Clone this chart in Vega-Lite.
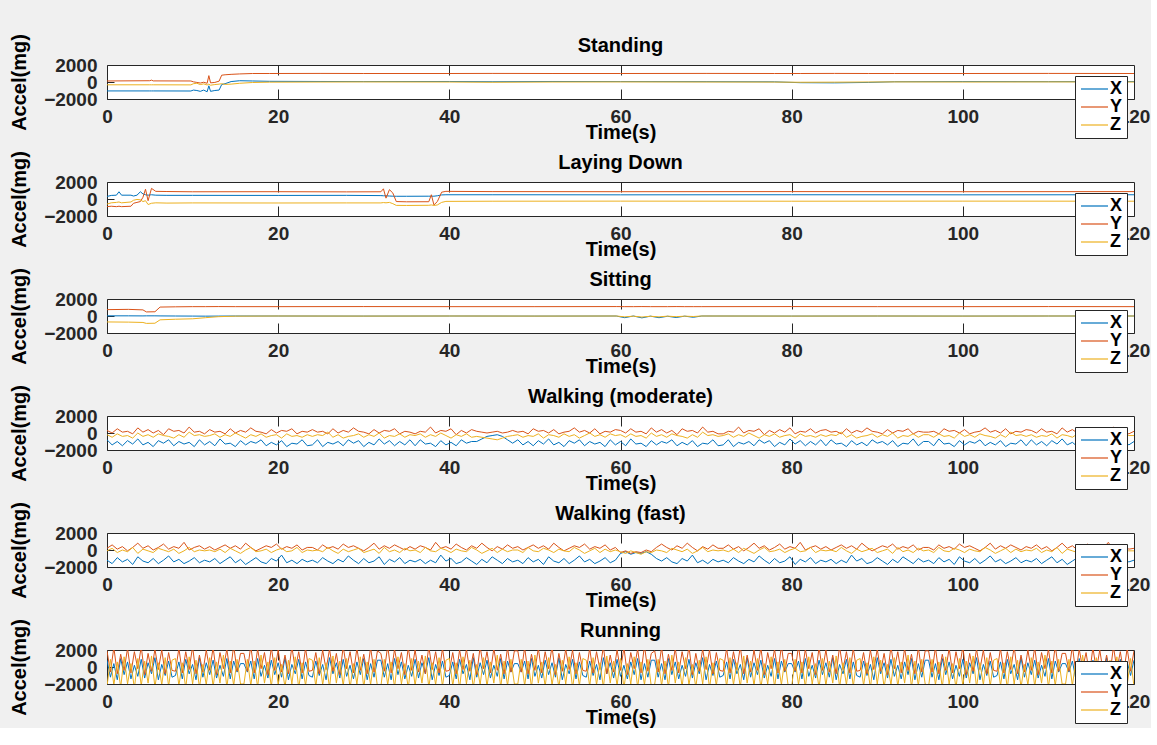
{
"$schema": "https://vega.github.io/schema/vega-lite/v6.json",
"background": "#f0f0f0",
"padding": {"left": 9, "top": 33, "right": 0, "bottom": 0},
"spacing": 83,
"bounds": "flush",
"config": {
"font": "Liberation Sans",
"view": {"fill": "white", "stroke": "#262626", "strokeWidth": 1},
"title": {"fontSize": 20, "fontWeight": "bold", "color": "black", "offset": -22, "anchor": "middle", "font": "Liberation Sans"},
"axis": {"labelFont": "Liberation Sans", "titleFont": "Liberation Sans", "labelFontSize": 19, "labelFontWeight": "bold", "labelColor": "#262626", "titleFontSize": 20, "titleFontWeight": "bold", "titleColor": "black", "grid": false, "domain": false, "tickColor": "#262626", "labelOverlap": false, "labelFlush": false, "labelBound": false},
"axisX": {"tickSize": -10, "labelPadding": 18, "titlePadding": -4},
"axisY": {"tickSize": -7, "labelPadding": 17, "titlePadding": 14, "format": "d"},
"legend": {"symbolType": "M-1,0H2.86", "symbolSize": 196, "symbolStrokeWidth": 1.2, "symbolOpacity": 1, "labelFont": "Liberation Sans", "labelFontSize": 18, "labelFontWeight": "bold", "labelColor": "black", "strokeColor": "#262626", "fillColor": "white", "padding": 4, "rowPadding": 0, "labelOffset": 13, "cornerRadius": 0}
},
"datasets": {
"st": [
{"t":0,"X":-1050,"Y":120,"Z":-330},{"t":5,"X":-1050,"Y":150,"Z":-330},{"t":5.2,"X":-1050,"Y":220,"Z":-330},{"t":5.4,"X":-1050,"Y":130,"Z":-330},{"t":9.8,"X":-1060,"Y":120,"Z":-340},{"t":10.1,"X":-950,"Y":20,"Z":-200},{"t":10.5,"X":-1000,"Y":-50,"Z":-150},{"t":10.9,"X":-1100,"Y":-120,"Z":-300},{"t":11.3,"X":-950,"Y":-30,"Z":-220},{"t":11.7,"X":-1150,"Y":-150,"Z":-350},{"t":11.9,"X":-450,"Y":750,"Z":-250},{"t":12.1,"X":-1100,"Y":-100,"Z":-380},{"t":12.6,"X":-1000,"Y":-50,"Z":-300},{"t":13.1,"X":-950,"Y":100,"Z":-250},{"t":13.4,"X":-300,"Y":800,"Z":-200},{"t":13.8,"X":-200,"Y":850,"Z":-280},{"t":14.5,"X":50,"Y":900,"Z":-250},{"t":15.5,"X":150,"Y":950,"Z":-150},{"t":17,"X":120,"Y":1000,"Z":-60},{"t":19,"X":80,"Y":1000,"Z":-20},{"t":25,"X":60,"Y":1010,"Z":0},{"t":30,"X":50,"Y":1000,"Z":10},{"t":40,"X":60,"Y":1000,"Z":0},{"t":45,"X":30,"Y":1010,"Z":-30},{"t":52,"X":60,"Y":1000,"Z":0},{"t":60,"X":50,"Y":1000,"Z":10},{"t":70,"X":40,"Y":1010,"Z":0},{"t":78,"X":20,"Y":1000,"Z":-10},{"t":81,"X":-80,"Y":1000,"Z":-30},{"t":85,"X":-100,"Y":1010,"Z":-20},{"t":89,"X":-50,"Y":1000,"Z":0},{"t":92,"X":30,"Y":1000,"Z":10},{"t":100,"X":50,"Y":1000,"Z":0},{"t":110,"X":40,"Y":1010,"Z":10},{"t":120,"X":50,"Y":1000,"Z":0}
],
"ld": [
{"t":0,"X":300,"Y":-900,"Z":-600},{"t":0.5,"X":420,"Y":-850,"Z":-450},{"t":1.1,"X":450,"Y":-900,"Z":-400},{"t":1.4,"X":850,"Y":-850,"Z":-350},{"t":1.7,"X":450,"Y":-900,"Z":-450},{"t":2.8,"X":450,"Y":-850,"Z":-350},{"t":3.1,"X":350,"Y":-500,"Z":-150},{"t":3.5,"X":450,"Y":-400,"Z":-50},{"t":3.9,"X":850,"Y":-300,"Z":-100},{"t":4.2,"X":600,"Y":200,"Z":-300},{"t":4.5,"X":500,"Y":1150,"Z":-200},{"t":4.8,"X":450,"Y":-200,"Z":-650},{"t":5.2,"X":500,"Y":1250,"Z":-500},{"t":5.7,"X":450,"Y":900,"Z":-450},{"t":7,"X":430,"Y":880,"Z":-480},{"t":10,"X":430,"Y":850,"Z":-460},{"t":20,"X":420,"Y":860,"Z":-470},{"t":28,"X":430,"Y":840,"Z":-460},{"t":32,"X":400,"Y":850,"Z":-460},{"t":32.3,"X":380,"Y":1200,"Z":-420},{"t":32.6,"X":380,"Y":100,"Z":-450},{"t":33,"X":350,"Y":1100,"Z":-400},{"t":33.4,"X":330,"Y":700,"Z":-550},{"t":33.8,"X":320,"Y":-300,"Z":-750},{"t":35,"X":320,"Y":-330,"Z":-760},{"t":37.6,"X":330,"Y":-320,"Z":-740},{"t":37.9,"X":330,"Y":500,"Z":-700},{"t":38.2,"X":330,"Y":-700,"Z":-760},{"t":38.6,"X":380,"Y":-300,"Z":-700},{"t":39.1,"X":480,"Y":800,"Z":-400},{"t":39.6,"X":500,"Y":900,"Z":-280},{"t":45,"X":500,"Y":870,"Z":-260},{"t":60,"X":490,"Y":860,"Z":-250},{"t":80,"X":500,"Y":870,"Z":-260},{"t":100,"X":490,"Y":860,"Z":-250},{"t":120,"X":500,"Y":870,"Z":-260}
],
"si": [
{"t":0,"X":20,"Y":750,"Z":-700},{"t":2.5,"X":20,"Y":780,"Z":-720},{"t":4.2,"X":10,"Y":720,"Z":-760},{"t":4.6,"X":20,"Y":480,"Z":-870},{"t":5.6,"X":20,"Y":500,"Z":-850},{"t":6.2,"X":10,"Y":1050,"Z":-450},{"t":8,"X":0,"Y":1080,"Z":-380},{"t":10,"X":-10,"Y":1100,"Z":-330},{"t":11.5,"X":-20,"Y":1100,"Z":-200},{"t":13,"X":-10,"Y":1110,"Z":-80},{"t":15,"X":0,"Y":1100,"Z":-20},{"t":20,"X":0,"Y":1100,"Z":0},{"t":30,"X":-10,"Y":1110,"Z":-10},{"t":40,"X":0,"Y":1100,"Z":0},{"t":50,"X":-10,"Y":1100,"Z":-10},{"t":59.5,"X":0,"Y":1110,"Z":0},{"t":60.5,"X":-200,"Y":1100,"Z":-100},{"t":61.5,"X":0,"Y":1100,"Z":-20},{"t":62.5,"X":-220,"Y":1110,"Z":-120},{"t":63.5,"X":-20,"Y":1100,"Z":-30},{"t":64.5,"X":-200,"Y":1100,"Z":-100},{"t":65.5,"X":-30,"Y":1100,"Z":-20},{"t":66.5,"X":-180,"Y":1110,"Z":-80},{"t":67.5,"X":-20,"Y":1100,"Z":-20},{"t":68.5,"X":-150,"Y":1100,"Z":-60},{"t":69.5,"X":0,"Y":1100,"Z":0},{"t":80,"X":-10,"Y":1110,"Z":-10},{"t":90,"X":0,"Y":1100,"Z":0},{"t":100,"X":-10,"Y":1100,"Z":-10},{"t":110,"X":0,"Y":1110,"Z":0},{"t":120,"X":0,"Y":1100,"Z":0}
],
"wm": [
{"t":0,"X":-800,"Y":300,"Z":-200},{"t":0.6,"X":-1400,"Y":0,"Z":-500},{"t":1.2,"X":-1000,"Y":500,"Z":-100},{"t":1.8,"X":-1500,"Y":100,"Z":-400},{"t":2.4,"X":-900,"Y":200,"Z":-300},{"t":3,"X":-1300,"Y":-100,"Z":-600},{"t":3.6,"X":-700,"Y":600,"Z":0},{"t":4.2,"X":-1400,"Y":100,"Z":-400},{"t":4.8,"X":-1100,"Y":400,"Z":-200},{"t":5.4,"X":-1600,"Y":0,"Z":-500},
{"t":6,"X":-900,"Y":300,"Z":-100},{"t":6.6,"X":-1200,"Y":-200,"Z":-300},{"t":7.2,"X":-800,"Y":500,"Z":-400},{"t":7.8,"X":-1500,"Y":200,"Z":-600},{"t":8.4,"X":-1000,"Y":300,"Z":-200},{"t":9,"X":-1300,"Y":0,"Z":-500},{"t":9.6,"X":-1100,"Y":700,"Z":100},{"t":10.2,"X":-1600,"Y":100,"Z":-300},{"t":10.8,"X":-800,"Y":200,"Z":-200},{"t":11.4,"X":-1400,"Y":-100,"Z":-400},
{"t":12,"X":-1000,"Y":400,"Z":-300},{"t":12.6,"X":-1500,"Y":100,"Z":-100},{"t":13.2,"X":-700,"Y":200,"Z":-500},{"t":13.8,"X":-1300,"Y":-100,"Z":-200},{"t":14.4,"X":-1200,"Y":500,"Z":-400},{"t":15,"X":-1600,"Y":0,"Z":0},{"t":15.6,"X":-900,"Y":300,"Z":-300},{"t":16.2,"X":-1400,"Y":100,"Z":-600},{"t":16.8,"X":-1000,"Y":600,"Z":-200},{"t":17.4,"X":-1200,"Y":200,"Z":-400},
{"t":18,"X":-800,"Y":100,"Z":-100},{"t":18.6,"X":-1500,"Y":-100,"Z":-500},{"t":19.2,"X":-1100,"Y":400,"Z":-300},{"t":19.8,"X":-1400,"Y":0,"Z":-200},{"t":20.4,"X":-900,"Y":300,"Z":-600},{"t":21,"X":-1600,"Y":200,"Z":-100},{"t":21.6,"X":-1200,"Y":500,"Z":-400},{"t":22.2,"X":-1300,"Y":-100,"Z":-300},{"t":22.8,"X":-800,"Y":200,"Z":-500},{"t":23.4,"X":-1500,"Y":100,"Z":-200},
{"t":24,"X":-1400,"Y":400,"Z":-400},{"t":24.6,"X":-800,"Y":100,"Z":-200},{"t":25.2,"X":-1600,"Y":200,"Z":-300},{"t":25.8,"X":-1100,"Y":-100,"Z":100},{"t":26.4,"X":-1300,"Y":500,"Z":-500},{"t":27,"X":-1000,"Y":0,"Z":-200},{"t":27.6,"X":-1500,"Y":300,"Z":-600},{"t":28.2,"X":-800,"Y":100,"Z":-400},{"t":28.8,"X":-1200,"Y":600,"Z":-300},{"t":29.4,"X":-900,"Y":200,"Z":-100},
{"t":30,"X":-1600,"Y":100,"Z":-500},{"t":30.6,"X":-1100,"Y":-100,"Z":-200},{"t":31.2,"X":-1400,"Y":400,"Z":-400},{"t":31.8,"X":-700,"Y":0,"Z":0},{"t":32.4,"X":-1300,"Y":300,"Z":-600},{"t":33,"X":-900,"Y":200,"Z":-300},{"t":33.6,"X":-1500,"Y":500,"Z":-400},{"t":34.2,"X":-1000,"Y":-100,"Z":-100},{"t":34.8,"X":-1400,"Y":200,"Z":-500},{"t":35.4,"X":-800,"Y":100,"Z":-200},
{"t":36,"X":-1500,"Y":-100,"Z":-300},{"t":36.6,"X":-800,"Y":200,"Z":-100},{"t":37.2,"X":-1300,"Y":100,"Z":-500},{"t":37.8,"X":-1200,"Y":700,"Z":-200},{"t":38.4,"X":-1600,"Y":0,"Z":-400},{"t":39,"X":-900,"Y":300,"Z":0},{"t":39.6,"X":-1400,"Y":200,"Z":-300},{"t":40.2,"X":-1100,"Y":500,"Z":-600},{"t":40.8,"X":-1500,"Y":-200,"Z":-200},{"t":41.4,"X":-800,"Y":300,"Z":-400},
{"t":42,"X":-1200,"Y":0,"Z":-100},{"t":42.6,"X":-1000,"Y":400,"Z":-500},{"t":43.2,"X":-1000,"Y":200,"Z":-400},{"t":43.8,"X":-700,"Y":100,"Z":-500},{"t":44.4,"X":-400,"Y":0,"Z":-600},{"t":45,"X":-300,"Y":100,"Z":-700},{"t":45.6,"X":-200,"Y":200,"Z":-800},{"t":46.2,"X":-400,"Y":0,"Z":-600},{"t":46.8,"X":-800,"Y":100,"Z":-400},{"t":47.4,"X":-1200,"Y":300,"Z":-300},
{"t":48,"X":-800,"Y":100,"Z":-200},{"t":48.6,"X":-1400,"Y":200,"Z":-500},{"t":49.2,"X":-1000,"Y":-100,"Z":-300},{"t":49.8,"X":-1500,"Y":500,"Z":-400},{"t":50.4,"X":-900,"Y":200,"Z":-100},{"t":51,"X":-1300,"Y":300,"Z":-600},{"t":51.6,"X":-700,"Y":0,"Z":-200},{"t":52.2,"X":-1400,"Y":400,"Z":-300},{"t":52.8,"X":-1100,"Y":-100,"Z":-500},{"t":53.4,"X":-1600,"Y":100,"Z":-100},
{"t":54,"X":-900,"Y":200,"Z":-400},{"t":54.6,"X":-1200,"Y":600,"Z":-200},{"t":55.2,"X":-800,"Y":100,"Z":-600},{"t":55.8,"X":-1500,"Y":300,"Z":-300},{"t":56.4,"X":-1000,"Y":0,"Z":0},{"t":57,"X":-1300,"Y":500,"Z":-400},{"t":57.6,"X":-1100,"Y":-100,"Z":-200},{"t":58.2,"X":-1600,"Y":200,"Z":-500},{"t":58.8,"X":-800,"Y":100,"Z":-100},{"t":59.4,"X":-1400,"Y":400,"Z":-300},
{"t":60,"X":-1000,"Y":300,"Z":-200},{"t":60.6,"X":-1500,"Y":0,"Z":-500},{"t":61.2,"X":-700,"Y":500,"Z":-100},{"t":61.8,"X":-1300,"Y":100,"Z":-400},{"t":62.4,"X":-1200,"Y":200,"Z":-300},{"t":63,"X":-1600,"Y":-100,"Z":-600},{"t":63.6,"X":-900,"Y":600,"Z":0},{"t":64.2,"X":-1400,"Y":100,"Z":-400},{"t":64.8,"X":-1000,"Y":400,"Z":-200},{"t":65.4,"X":-1200,"Y":0,"Z":-500},
{"t":66,"X":-800,"Y":300,"Z":-100},{"t":66.6,"X":-1500,"Y":-200,"Z":-300},{"t":67.2,"X":-1100,"Y":500,"Z":-400},{"t":67.8,"X":-1400,"Y":200,"Z":-600},{"t":68.4,"X":-900,"Y":300,"Z":-200},{"t":69,"X":-1600,"Y":0,"Z":-500},{"t":69.6,"X":-1200,"Y":700,"Z":100},{"t":70.2,"X":-1300,"Y":100,"Z":-300},{"t":70.8,"X":-800,"Y":200,"Z":-200},{"t":71.4,"X":-1500,"Y":-100,"Z":-400},
{"t":72,"X":-1400,"Y":-100,"Z":-300},{"t":72.6,"X":-800,"Y":200,"Z":-100},{"t":73.2,"X":-1600,"Y":100,"Z":-500},{"t":73.8,"X":-1100,"Y":700,"Z":-200},{"t":74.4,"X":-1300,"Y":0,"Z":-400},{"t":75,"X":-1000,"Y":300,"Z":0},{"t":75.6,"X":-1500,"Y":200,"Z":-300},{"t":76.2,"X":-800,"Y":500,"Z":-600},{"t":76.8,"X":-1200,"Y":-200,"Z":-200},{"t":77.4,"X":-900,"Y":300,"Z":-400},
{"t":78,"X":-1600,"Y":0,"Z":-100},{"t":78.6,"X":-1100,"Y":400,"Z":-500},{"t":79.2,"X":-1400,"Y":100,"Z":-300},{"t":79.8,"X":-700,"Y":600,"Z":-200},{"t":80.4,"X":-1300,"Y":-100,"Z":-600},{"t":81,"X":-900,"Y":200,"Z":-100},{"t":81.6,"X":-1500,"Y":100,"Z":-400},{"t":82.2,"X":-1000,"Y":500,"Z":-300},{"t":82.8,"X":-1400,"Y":0,"Z":-500},{"t":83.4,"X":-800,"Y":300,"Z":-200},
{"t":84,"X":-1500,"Y":400,"Z":-400},{"t":84.6,"X":-800,"Y":100,"Z":-200},{"t":85.2,"X":-1300,"Y":200,"Z":-300},{"t":85.8,"X":-1200,"Y":-100,"Z":100},{"t":86.4,"X":-1600,"Y":500,"Z":-500},{"t":87,"X":-900,"Y":0,"Z":-200},{"t":87.6,"X":-1400,"Y":300,"Z":-600},{"t":88.2,"X":-1100,"Y":100,"Z":-400},{"t":88.8,"X":-1500,"Y":600,"Z":-300},{"t":89.4,"X":-800,"Y":200,"Z":-100},
{"t":90,"X":-1200,"Y":100,"Z":-500},{"t":90.6,"X":-1000,"Y":-100,"Z":-200},{"t":91.2,"X":-1400,"Y":400,"Z":-400},{"t":91.8,"X":-900,"Y":0,"Z":0},{"t":92.4,"X":-1600,"Y":300,"Z":-600},{"t":93,"X":-1200,"Y":200,"Z":-300},{"t":93.6,"X":-1300,"Y":500,"Z":-400},{"t":94.2,"X":-700,"Y":-100,"Z":-100},{"t":94.8,"X":-1500,"Y":200,"Z":-500},{"t":95.4,"X":-1000,"Y":100,"Z":-200},
{"t":96,"X":-1000,"Y":100,"Z":-200},{"t":96.6,"X":-1500,"Y":200,"Z":-500},{"t":97.2,"X":-700,"Y":-100,"Z":-100},{"t":97.8,"X":-1300,"Y":500,"Z":-400},{"t":98.4,"X":-1200,"Y":200,"Z":-300},{"t":99,"X":-1600,"Y":300,"Z":-600},{"t":99.6,"X":-900,"Y":0,"Z":0},{"t":100.2,"X":-1400,"Y":400,"Z":-400},{"t":100.8,"X":-1000,"Y":-100,"Z":-200},{"t":101.4,"X":-1200,"Y":100,"Z":-500},
{"t":102,"X":-800,"Y":200,"Z":-100},{"t":102.6,"X":-1500,"Y":600,"Z":-300},{"t":103.2,"X":-1100,"Y":100,"Z":-400},{"t":103.8,"X":-1400,"Y":300,"Z":-600},{"t":104.4,"X":-900,"Y":0,"Z":-200},{"t":105,"X":-1600,"Y":500,"Z":-500},{"t":105.6,"X":-1200,"Y":-100,"Z":100},{"t":106.2,"X":-1300,"Y":200,"Z":-300},{"t":106.8,"X":-800,"Y":100,"Z":-200},{"t":107.4,"X":-1500,"Y":400,"Z":-400},
{"t":108,"X":-800,"Y":300,"Z":-200},{"t":108.6,"X":-1400,"Y":0,"Z":-500},{"t":109.2,"X":-1000,"Y":500,"Z":-300},{"t":109.8,"X":-1500,"Y":100,"Z":-400},{"t":110.4,"X":-900,"Y":200,"Z":-100},{"t":111,"X":-1300,"Y":-100,"Z":-600},{"t":111.6,"X":-700,"Y":600,"Z":-200},{"t":112.2,"X":-1400,"Y":100,"Z":-300},{"t":112.8,"X":-1100,"Y":400,"Z":-500},{"t":113.4,"X":-1600,"Y":0,"Z":-100},
{"t":114,"X":-900,"Y":300,"Z":-400},{"t":114.6,"X":-1200,"Y":-200,"Z":-200},{"t":115.2,"X":-800,"Y":500,"Z":-600},{"t":115.8,"X":-1500,"Y":200,"Z":-300},{"t":116.4,"X":-1000,"Y":300,"Z":0},{"t":117,"X":-1300,"Y":0,"Z":-400},{"t":117.6,"X":-1100,"Y":700,"Z":-200},{"t":118.2,"X":-1600,"Y":100,"Z":-500},{"t":118.8,"X":-800,"Y":200,"Z":-100},{"t":119.4,"X":-1400,"Y":-100,"Z":-300},
{"t":120,"X":-1000,"Y":200,"Z":-300}
],
"wf": [
{"t":0,"X":-1200,"Y":200,"Z":-100},{"t":0.6,"X":-1600,"Y":600,"Z":200},{"t":1.2,"X":-900,"Y":100,"Z":-300},{"t":1.8,"X":-1400,"Y":400,"Z":0},{"t":2.4,"X":-1100,"Y":-100,"Z":-200},{"t":3,"X":-1700,"Y":300,"Z":300},{"t":3.6,"X":-800,"Y":800,"Z":-400},{"t":4.2,"X":-1300,"Y":200,"Z":100},{"t":4.8,"X":-1500,"Y":500,"Z":-100},{"t":5.4,"X":-1000,"Y":0,"Z":-300},
{"t":6,"X":-1600,"Y":300,"Z":200},{"t":6.6,"X":-1200,"Y":700,"Z":0},{"t":7.2,"X":-700,"Y":100,"Z":-200},{"t":7.8,"X":-1400,"Y":400,"Z":100},{"t":8.4,"X":-1100,"Y":200,"Z":-400},{"t":9,"X":-1600,"Y":900,"Z":-100},{"t":9.6,"X":-1300,"Y":0,"Z":300},{"t":10.2,"X":-900,"Y":300,"Z":-200},{"t":10.8,"X":-1500,"Y":500,"Z":0},{"t":11.4,"X":-1200,"Y":100,"Z":-100},
{"t":12,"X":-1400,"Y":400,"Z":0},{"t":12.6,"X":-1000,"Y":0,"Z":-200},{"t":13.2,"X":-1600,"Y":300,"Z":100},{"t":13.8,"X":-1200,"Y":600,"Z":-300},{"t":14.4,"X":-800,"Y":200,"Z":200},{"t":15,"X":-1500,"Y":500,"Z":-100},{"t":15.6,"X":-1100,"Y":100,"Z":-400},{"t":16.2,"X":-1700,"Y":800,"Z":0},{"t":16.8,"X":-1300,"Y":300,"Z":300},{"t":17.4,"X":-900,"Y":-100,"Z":-200},
{"t":18,"X":-1400,"Y":200,"Z":-100},{"t":18.6,"X":-1600,"Y":500,"Z":100},{"t":19.2,"X":-1000,"Y":300,"Z":-300},{"t":19.8,"X":-1300,"Y":700,"Z":0},{"t":20.4,"X":-600,"Y":100,"Z":200},{"t":21,"X":-1500,"Y":400,"Z":-200},{"t":21.6,"X":-1200,"Y":200,"Z":-100},{"t":22.2,"X":-1600,"Y":600,"Z":300},{"t":22.8,"X":-1100,"Y":0,"Z":-300},{"t":23.4,"X":-1400,"Y":300,"Z":0},
{"t":24,"X":-1200,"Y":300,"Z":-100},{"t":24.6,"X":-1500,"Y":0,"Z":0},{"t":25.2,"X":-900,"Y":600,"Z":-200},{"t":25.8,"X":-1300,"Y":200,"Z":300},{"t":26.4,"X":-1600,"Y":400,"Z":-100},{"t":27,"X":-1100,"Y":100,"Z":-400},{"t":27.6,"X":-1400,"Y":700,"Z":100},{"t":28.2,"X":-700,"Y":300,"Z":-200},{"t":28.8,"X":-1200,"Y":500,"Z":0},{"t":29.4,"X":-1600,"Y":200,"Z":200},
{"t":30,"X":-1000,"Y":-100,"Z":-300},{"t":30.6,"X":-1500,"Y":300,"Z":-100},{"t":31.2,"X":-1300,"Y":800,"Z":100},{"t":31.8,"X":-800,"Y":100,"Z":-400},{"t":32.4,"X":-1700,"Y":500,"Z":300},{"t":33,"X":-1100,"Y":200,"Z":-200},{"t":33.6,"X":-1400,"Y":600,"Z":0},{"t":34.2,"X":-900,"Y":300,"Z":-300},{"t":34.8,"X":-1600,"Y":0,"Z":200},{"t":35.4,"X":-1200,"Y":400,"Z":-100},
{"t":36,"X":-1400,"Y":100,"Z":0},{"t":36.6,"X":-1100,"Y":500,"Z":-300},{"t":37.2,"X":-1600,"Y":300,"Z":300},{"t":37.8,"X":-1200,"Y":0,"Z":-100},{"t":38.4,"X":-1500,"Y":900,"Z":-200},{"t":39,"X":-600,"Y":200,"Z":200},{"t":39.6,"X":-1300,"Y":400,"Z":0},{"t":40.2,"X":-1000,"Y":100,"Z":-300},{"t":40.8,"X":-1600,"Y":700,"Z":100},{"t":41.4,"X":-1400,"Y":300,"Z":-100},
{"t":42,"X":-900,"Y":0,"Z":-200},{"t":42.6,"X":-1300,"Y":500,"Z":300},{"t":43.2,"X":-1700,"Y":200,"Z":0},{"t":43.8,"X":-1100,"Y":800,"Z":-400},{"t":44.4,"X":-1500,"Y":300,"Z":-100},{"t":45,"X":-800,"Y":-100,"Z":200},{"t":45.6,"X":-1200,"Y":400,"Z":-300},{"t":46.2,"X":-1600,"Y":100,"Z":100},{"t":46.8,"X":-1000,"Y":600,"Z":-200},{"t":47.4,"X":-1400,"Y":200,"Z":0},
{"t":48,"X":-1200,"Y":400,"Z":0},{"t":48.6,"X":-1600,"Y":0,"Z":-300},{"t":49.2,"X":-900,"Y":300,"Z":300},{"t":49.8,"X":-1400,"Y":600,"Z":-100},{"t":50.4,"X":-1100,"Y":200,"Z":-200},{"t":51,"X":-1700,"Y":500,"Z":200},{"t":51.6,"X":-800,"Y":100,"Z":0},{"t":52.2,"X":-1300,"Y":800,"Z":-300},{"t":52.8,"X":-1500,"Y":300,"Z":100},{"t":53.4,"X":-1000,"Y":-100,"Z":-100},
{"t":54,"X":-1600,"Y":200,"Z":-200},{"t":54.6,"X":-1200,"Y":500,"Z":300},{"t":55.2,"X":-700,"Y":300,"Z":0},{"t":55.8,"X":-1400,"Y":700,"Z":-400},{"t":56.4,"X":-1100,"Y":100,"Z":-100},{"t":57,"X":-1600,"Y":400,"Z":200},{"t":57.6,"X":-1300,"Y":200,"Z":-300},{"t":58.2,"X":-900,"Y":600,"Z":100},{"t":58.8,"X":-1500,"Y":0,"Z":-200},{"t":59.4,"X":-1200,"Y":300,"Z":0},
{"t":60,"X":-400,"Y":-300,"Z":-200},{"t":60.6,"X":-200,"Y":-100,"Z":-400},{"t":61.2,"X":-500,"Y":-400,"Z":-100},{"t":61.8,"X":-300,"Y":-200,"Z":-300},{"t":62.4,"X":-400,"Y":-300,"Z":-500},{"t":63,"X":-200,"Y":0,"Z":-200},{"t":63.6,"X":-500,"Y":-200,"Z":-300},{"t":64.2,"X":-1000,"Y":300,"Z":0},{"t":64.8,"X":-1300,"Y":700,"Z":-100},{"t":65.4,"X":-900,"Y":300,"Z":-300},
{"t":66,"X":-1400,"Y":0,"Z":200},{"t":66.6,"X":-1600,"Y":500,"Z":0},{"t":67.2,"X":-1000,"Y":200,"Z":-200},{"t":67.8,"X":-1300,"Y":800,"Z":100},{"t":68.4,"X":-600,"Y":300,"Z":-400},{"t":69,"X":-1500,"Y":-100,"Z":-100},{"t":69.6,"X":-1200,"Y":400,"Z":300},{"t":70.2,"X":-1600,"Y":100,"Z":-200},{"t":70.8,"X":-1100,"Y":600,"Z":0},{"t":71.4,"X":-1400,"Y":200,"Z":-100},
{"t":72,"X":-1200,"Y":200,"Z":0},{"t":72.6,"X":-1500,"Y":600,"Z":-200},{"t":73.2,"X":-900,"Y":100,"Z":100},{"t":73.8,"X":-1300,"Y":400,"Z":-300},{"t":74.4,"X":-1600,"Y":-100,"Z":200},{"t":75,"X":-1100,"Y":300,"Z":-100},{"t":75.6,"X":-1400,"Y":800,"Z":-400},{"t":76.2,"X":-700,"Y":200,"Z":0},{"t":76.8,"X":-1200,"Y":500,"Z":300},{"t":77.4,"X":-1600,"Y":0,"Z":-200},
{"t":78,"X":-1000,"Y":300,"Z":-100},{"t":78.6,"X":-1500,"Y":700,"Z":100},{"t":79.2,"X":-1300,"Y":100,"Z":-300},{"t":79.8,"X":-800,"Y":400,"Z":0},{"t":80.4,"X":-1700,"Y":200,"Z":200},{"t":81,"X":-1100,"Y":900,"Z":-200},{"t":81.6,"X":-1400,"Y":0,"Z":-100},{"t":82.2,"X":-900,"Y":300,"Z":300},{"t":82.8,"X":-1600,"Y":500,"Z":-300},{"t":83.4,"X":-1200,"Y":100,"Z":0},
{"t":84,"X":-1400,"Y":400,"Z":-100},{"t":84.6,"X":-1100,"Y":0,"Z":0},{"t":85.2,"X":-1600,"Y":300,"Z":-200},{"t":85.8,"X":-1200,"Y":600,"Z":300},{"t":86.4,"X":-1500,"Y":200,"Z":-100},{"t":87,"X":-600,"Y":500,"Z":-400},{"t":87.6,"X":-1300,"Y":100,"Z":100},{"t":88.2,"X":-1000,"Y":800,"Z":-200},{"t":88.8,"X":-1600,"Y":300,"Z":0},{"t":89.4,"X":-1400,"Y":-100,"Z":200},
{"t":90,"X":-900,"Y":200,"Z":-300},{"t":90.6,"X":-1300,"Y":500,"Z":-100},{"t":91.2,"X":-1700,"Y":300,"Z":100},{"t":91.8,"X":-1100,"Y":700,"Z":-400},{"t":92.4,"X":-1500,"Y":100,"Z":300},{"t":93,"X":-800,"Y":400,"Z":-200},{"t":93.6,"X":-1200,"Y":200,"Z":0},{"t":94.2,"X":-1600,"Y":600,"Z":-300},{"t":94.8,"X":-1000,"Y":0,"Z":200},{"t":95.4,"X":-1400,"Y":300,"Z":-100},
{"t":96,"X":-1200,"Y":300,"Z":0},{"t":96.6,"X":-1600,"Y":0,"Z":-300},{"t":97.2,"X":-900,"Y":600,"Z":300},{"t":97.8,"X":-1400,"Y":200,"Z":-100},{"t":98.4,"X":-1100,"Y":400,"Z":-200},{"t":99,"X":-1700,"Y":100,"Z":200},{"t":99.6,"X":-800,"Y":700,"Z":0},{"t":100.2,"X":-1300,"Y":300,"Z":-300},{"t":100.8,"X":-1500,"Y":500,"Z":100},{"t":101.4,"X":-1000,"Y":200,"Z":-100},
{"t":102,"X":-1600,"Y":-100,"Z":-200},{"t":102.6,"X":-1200,"Y":300,"Z":300},{"t":103.2,"X":-700,"Y":800,"Z":0},{"t":103.8,"X":-1400,"Y":100,"Z":-400},{"t":104.4,"X":-1100,"Y":500,"Z":-100},{"t":105,"X":-1600,"Y":200,"Z":200},{"t":105.6,"X":-1300,"Y":600,"Z":-300},{"t":106.2,"X":-900,"Y":300,"Z":100},{"t":106.8,"X":-1500,"Y":0,"Z":-200},{"t":107.4,"X":-1200,"Y":400,"Z":0},
{"t":108,"X":-1400,"Y":200,"Z":-100},{"t":108.6,"X":-1000,"Y":600,"Z":200},{"t":109.2,"X":-1600,"Y":100,"Z":-300},{"t":109.8,"X":-1200,"Y":400,"Z":0},{"t":110.4,"X":-800,"Y":-100,"Z":-200},{"t":111,"X":-1500,"Y":300,"Z":300},{"t":111.6,"X":-1100,"Y":800,"Z":-400},{"t":112.2,"X":-1700,"Y":200,"Z":100},{"t":112.8,"X":-1300,"Y":500,"Z":-100},{"t":113.4,"X":-900,"Y":0,"Z":-300},
{"t":114,"X":-1400,"Y":300,"Z":200},{"t":114.6,"X":-1600,"Y":700,"Z":0},{"t":115.2,"X":-1000,"Y":100,"Z":-200},{"t":115.8,"X":-1300,"Y":400,"Z":100},{"t":116.4,"X":-600,"Y":200,"Z":-400},{"t":117,"X":-1500,"Y":900,"Z":-100},{"t":117.6,"X":-1200,"Y":0,"Z":300},{"t":118.2,"X":-1600,"Y":300,"Z":-200},{"t":118.8,"X":-1100,"Y":500,"Z":0},{"t":119.4,"X":-1400,"Y":100,"Z":-100},
{"t":120,"X":-1200,"Y":200,"Z":-100}
],
"ru": [
{"t":0,"X":800,"Y":1900,"Z":-2300},{"t":0.4,"X":-1200,"Y":-600,"Z":900},{"t":0.8,"X":400,"Y":2300,"Z":-2100},{"t":1.2,"X":-1500,"Y":-800,"Z":600},{"t":1.6,"X":1000,"Y":1500,"Z":-2400},{"t":2,"X":-900,"Y":-400,"Z":1200},{"t":2.4,"X":600,"Y":2200,"Z":-2000},{"t":2.8,"X":-1400,"Y":-700,"Z":400},{"t":3.2,"X":200,"Y":1800,"Z":-2500},{"t":3.6,"X":-1100,"Y":-200,"Z":1000},
{"t":4,"X":900,"Y":2400,"Z":-2200},{"t":4.4,"X":-1300,"Y":-900,"Z":700},{"t":4.8,"X":500,"Y":1600,"Z":-1900},{"t":5.2,"X":-800,"Y":-500,"Z":1300},{"t":5.6,"X":1100,"Y":2100,"Z":-2400},{"t":6,"X":-1500,"Y":-300,"Z":500},{"t":6.4,"X":300,"Y":2000,"Z":-2100},{"t":6.8,"X":-1000,"Y":-800,"Z":1100},{"t":7.2,"X":700,"Y":1700,"Z":-2300},{"t":7.6,"X":-1200,"Y":-400,"Z":800},
{"t":8,"X":-1000,"Y":-500,"Z":1000},{"t":8.4,"X":600,"Y":2200,"Z":-2200},{"t":8.8,"X":-1400,"Y":-700,"Z":500},{"t":9.2,"X":900,"Y":1800,"Z":-2500},{"t":9.6,"X":-800,"Y":-300,"Z":1200},{"t":10,"X":300,"Y":2400,"Z":-2000},{"t":10.4,"X":-1500,"Y":-800,"Z":800},{"t":10.8,"X":1100,"Y":1400,"Z":-2400},{"t":11.2,"X":-1200,"Y":-600,"Z":300},{"t":11.6,"X":500,"Y":2000,"Z":-2100},
{"t":12,"X":-900,"Y":-400,"Z":1100},{"t":12.4,"X":800,"Y":2300,"Z":-2300},{"t":12.8,"X":-1300,"Y":-900,"Z":600},{"t":13.2,"X":200,"Y":1700,"Z":-1900},{"t":13.6,"X":-1100,"Y":-200,"Z":1400},{"t":14,"X":1000,"Y":2100,"Z":-2400},{"t":14.4,"X":-1400,"Y":-700,"Z":700},{"t":14.8,"X":700,"Y":2500,"Z":-2200},{"t":15.2,"X":-600,"Y":-500,"Z":900},{"t":15.6,"X":400,"Y":1600,"Z":-2000},
{"t":16,"X":400,"Y":1600,"Z":-2000},{"t":16.4,"X":-600,"Y":-500,"Z":900},{"t":16.8,"X":700,"Y":2500,"Z":-2200},{"t":17.2,"X":-1400,"Y":-700,"Z":700},{"t":17.6,"X":1000,"Y":2100,"Z":-2400},{"t":18,"X":-1100,"Y":-200,"Z":1400},{"t":18.4,"X":200,"Y":1700,"Z":-1900},{"t":18.8,"X":-1300,"Y":-900,"Z":600},{"t":19.2,"X":800,"Y":2300,"Z":-2300},{"t":19.6,"X":-900,"Y":-400,"Z":1100},
{"t":20,"X":500,"Y":2000,"Z":-2100},{"t":20.4,"X":-1200,"Y":-600,"Z":300},{"t":20.8,"X":1100,"Y":1400,"Z":-2400},{"t":21.2,"X":-1500,"Y":-800,"Z":800},{"t":21.6,"X":300,"Y":2400,"Z":-2000},{"t":22,"X":-800,"Y":-300,"Z":1200},{"t":22.4,"X":900,"Y":1800,"Z":-2500},{"t":22.8,"X":-1400,"Y":-700,"Z":500},{"t":23.2,"X":600,"Y":2200,"Z":-2200},{"t":23.6,"X":-1000,"Y":-500,"Z":1000},
{"t":24,"X":-1200,"Y":-400,"Z":800},{"t":24.4,"X":700,"Y":1700,"Z":-2300},{"t":24.8,"X":-1000,"Y":-800,"Z":1100},{"t":25.2,"X":300,"Y":2000,"Z":-2100},{"t":25.6,"X":-1500,"Y":-300,"Z":500},{"t":26,"X":1100,"Y":2100,"Z":-2400},{"t":26.4,"X":-800,"Y":-500,"Z":1300},{"t":26.8,"X":500,"Y":1600,"Z":-1900},{"t":27.2,"X":-1300,"Y":-900,"Z":700},{"t":27.6,"X":900,"Y":2400,"Z":-2200},
{"t":28,"X":-1100,"Y":-200,"Z":1000},{"t":28.4,"X":200,"Y":1800,"Z":-2500},{"t":28.8,"X":-1400,"Y":-700,"Z":400},{"t":29.2,"X":600,"Y":2200,"Z":-2000},{"t":29.6,"X":-900,"Y":-400,"Z":1200},{"t":30,"X":1000,"Y":1500,"Z":-2400},{"t":30.4,"X":-1500,"Y":-800,"Z":600},{"t":30.8,"X":400,"Y":2300,"Z":-2100},{"t":31.2,"X":-1200,"Y":-600,"Z":900},{"t":31.6,"X":800,"Y":1900,"Z":-2300},
{"t":32,"X":800,"Y":1600,"Z":-2300},{"t":32.4,"X":-1200,"Y":-500,"Z":900},{"t":32.8,"X":400,"Y":2500,"Z":-2100},{"t":33.2,"X":-1500,"Y":-700,"Z":600},{"t":33.6,"X":1000,"Y":2100,"Z":-2400},{"t":34,"X":-900,"Y":-200,"Z":1200},{"t":34.4,"X":600,"Y":1700,"Z":-2000},{"t":34.8,"X":-1400,"Y":-900,"Z":400},{"t":35.2,"X":200,"Y":2300,"Z":-2500},{"t":35.6,"X":-1100,"Y":-400,"Z":1000},
{"t":36,"X":900,"Y":2000,"Z":-2200},{"t":36.4,"X":-1300,"Y":-600,"Z":700},{"t":36.8,"X":500,"Y":1400,"Z":-1900},{"t":37.2,"X":-800,"Y":-800,"Z":1300},{"t":37.6,"X":1100,"Y":2400,"Z":-2400},{"t":38,"X":-1500,"Y":-300,"Z":500},{"t":38.4,"X":300,"Y":1800,"Z":-2100},{"t":38.8,"X":-1000,"Y":-700,"Z":1100},{"t":39.2,"X":700,"Y":2200,"Z":-2300},{"t":39.6,"X":-1200,"Y":-500,"Z":800},
{"t":40,"X":-1000,"Y":-400,"Z":1000},{"t":40.4,"X":600,"Y":1700,"Z":-2200},{"t":40.8,"X":-1400,"Y":-800,"Z":500},{"t":41.2,"X":900,"Y":2000,"Z":-2500},{"t":41.6,"X":-800,"Y":-300,"Z":1200},{"t":42,"X":300,"Y":2100,"Z":-2000},{"t":42.4,"X":-1500,"Y":-500,"Z":800},{"t":42.8,"X":1100,"Y":1600,"Z":-2400},{"t":43.2,"X":-1200,"Y":-900,"Z":300},{"t":43.6,"X":500,"Y":2400,"Z":-2100},
{"t":44,"X":-900,"Y":-200,"Z":1100},{"t":44.4,"X":800,"Y":1800,"Z":-2300},{"t":44.8,"X":-1300,"Y":-700,"Z":600},{"t":45.2,"X":200,"Y":2200,"Z":-1900},{"t":45.6,"X":-1100,"Y":-400,"Z":1400},{"t":46,"X":1000,"Y":1500,"Z":-2400},{"t":46.4,"X":-1400,"Y":-800,"Z":700},{"t":46.8,"X":700,"Y":2300,"Z":-2200},{"t":47.2,"X":-600,"Y":-600,"Z":900},{"t":47.6,"X":400,"Y":1900,"Z":-2000},
{"t":48,"X":400,"Y":1900,"Z":-2000},{"t":48.4,"X":-600,"Y":-600,"Z":900},{"t":48.8,"X":700,"Y":2300,"Z":-2200},{"t":49.2,"X":-1400,"Y":-800,"Z":700},{"t":49.6,"X":1000,"Y":1500,"Z":-2400},{"t":50,"X":-1100,"Y":-400,"Z":1400},{"t":50.4,"X":200,"Y":2200,"Z":-1900},{"t":50.8,"X":-1300,"Y":-700,"Z":600},{"t":51.2,"X":800,"Y":1800,"Z":-2300},{"t":51.6,"X":-900,"Y":-200,"Z":1100},
{"t":52,"X":500,"Y":2400,"Z":-2100},{"t":52.4,"X":-1200,"Y":-900,"Z":300},{"t":52.8,"X":1100,"Y":1600,"Z":-2400},{"t":53.2,"X":-1500,"Y":-500,"Z":800},{"t":53.6,"X":300,"Y":2100,"Z":-2000},{"t":54,"X":-800,"Y":-300,"Z":1200},{"t":54.4,"X":900,"Y":2000,"Z":-2500},{"t":54.8,"X":-1400,"Y":-800,"Z":500},{"t":55.2,"X":600,"Y":1700,"Z":-2200},{"t":55.6,"X":-1000,"Y":-400,"Z":1000},
{"t":56,"X":-1200,"Y":-500,"Z":800},{"t":56.4,"X":700,"Y":2200,"Z":-2300},{"t":56.8,"X":-1000,"Y":-700,"Z":1100},{"t":57.2,"X":300,"Y":1800,"Z":-2100},{"t":57.6,"X":-1500,"Y":-300,"Z":500},{"t":58,"X":1100,"Y":2400,"Z":-2400},{"t":58.4,"X":-800,"Y":-800,"Z":1300},{"t":58.8,"X":500,"Y":1400,"Z":-1900},{"t":59.2,"X":-1300,"Y":-600,"Z":700},{"t":59.6,"X":900,"Y":2000,"Z":-2200},
{"t":60,"X":-1100,"Y":-400,"Z":1000},{"t":60.4,"X":200,"Y":2300,"Z":-2500},{"t":60.8,"X":-1400,"Y":-900,"Z":400},{"t":61.2,"X":600,"Y":1700,"Z":-2000},{"t":61.6,"X":-900,"Y":-200,"Z":1200},{"t":62,"X":1000,"Y":2100,"Z":-2400},{"t":62.4,"X":-1500,"Y":-700,"Z":600},{"t":62.8,"X":400,"Y":2500,"Z":-2100},{"t":63.2,"X":-1200,"Y":-500,"Z":900},{"t":63.6,"X":800,"Y":1600,"Z":-2300},
{"t":64,"X":800,"Y":1900,"Z":-2000},{"t":64.4,"X":-1200,"Y":-600,"Z":900},{"t":64.8,"X":400,"Y":2300,"Z":-2200},{"t":65.2,"X":-1500,"Y":-800,"Z":700},{"t":65.6,"X":1000,"Y":1500,"Z":-2400},{"t":66,"X":-900,"Y":-400,"Z":1400},{"t":66.4,"X":600,"Y":2200,"Z":-1900},{"t":66.8,"X":-1400,"Y":-700,"Z":600},{"t":67.2,"X":200,"Y":1800,"Z":-2300},{"t":67.6,"X":-1100,"Y":-200,"Z":1100},
{"t":68,"X":900,"Y":2400,"Z":-2100},{"t":68.4,"X":-1300,"Y":-900,"Z":300},{"t":68.8,"X":500,"Y":1600,"Z":-2400},{"t":69.2,"X":-800,"Y":-500,"Z":800},{"t":69.6,"X":1100,"Y":2100,"Z":-2000},{"t":70,"X":-1500,"Y":-300,"Z":1200},{"t":70.4,"X":300,"Y":2000,"Z":-2500},{"t":70.8,"X":-1000,"Y":-800,"Z":500},{"t":71.2,"X":700,"Y":1700,"Z":-2200},{"t":71.6,"X":-1200,"Y":-400,"Z":1000},
{"t":72,"X":-1000,"Y":-500,"Z":800},{"t":72.4,"X":600,"Y":2200,"Z":-2300},{"t":72.8,"X":-1400,"Y":-700,"Z":1100},{"t":73.2,"X":900,"Y":1800,"Z":-2100},{"t":73.6,"X":-800,"Y":-300,"Z":500},{"t":74,"X":300,"Y":2400,"Z":-2400},{"t":74.4,"X":-1500,"Y":-800,"Z":1300},{"t":74.8,"X":1100,"Y":1400,"Z":-1900},{"t":75.2,"X":-1200,"Y":-600,"Z":700},{"t":75.6,"X":500,"Y":2000,"Z":-2200},
{"t":76,"X":-900,"Y":-400,"Z":1000},{"t":76.4,"X":800,"Y":2300,"Z":-2500},{"t":76.8,"X":-1300,"Y":-900,"Z":400},{"t":77.2,"X":200,"Y":1700,"Z":-2000},{"t":77.6,"X":-1100,"Y":-200,"Z":1200},{"t":78,"X":1000,"Y":2100,"Z":-2400},{"t":78.4,"X":-1400,"Y":-700,"Z":600},{"t":78.8,"X":700,"Y":2500,"Z":-2100},{"t":79.2,"X":-600,"Y":-500,"Z":900},{"t":79.6,"X":400,"Y":1600,"Z":-2300},
{"t":80,"X":400,"Y":1600,"Z":-2300},{"t":80.4,"X":-600,"Y":-500,"Z":900},{"t":80.8,"X":700,"Y":2500,"Z":-2100},{"t":81.2,"X":-1400,"Y":-700,"Z":600},{"t":81.6,"X":1000,"Y":2100,"Z":-2400},{"t":82,"X":-1100,"Y":-200,"Z":1200},{"t":82.4,"X":200,"Y":1700,"Z":-2000},{"t":82.8,"X":-1300,"Y":-900,"Z":400},{"t":83.2,"X":800,"Y":2300,"Z":-2500},{"t":83.6,"X":-900,"Y":-400,"Z":1000},
{"t":84,"X":500,"Y":2000,"Z":-2200},{"t":84.4,"X":-1200,"Y":-600,"Z":700},{"t":84.8,"X":1100,"Y":1400,"Z":-1900},{"t":85.2,"X":-1500,"Y":-800,"Z":1300},{"t":85.6,"X":300,"Y":2400,"Z":-2400},{"t":86,"X":-800,"Y":-300,"Z":500},{"t":86.4,"X":900,"Y":1800,"Z":-2100},{"t":86.8,"X":-1400,"Y":-700,"Z":1100},{"t":87.2,"X":600,"Y":2200,"Z":-2300},{"t":87.6,"X":-1000,"Y":-500,"Z":800},
{"t":88,"X":-1200,"Y":-400,"Z":1000},{"t":88.4,"X":700,"Y":1700,"Z":-2200},{"t":88.8,"X":-1000,"Y":-800,"Z":500},{"t":89.2,"X":300,"Y":2000,"Z":-2500},{"t":89.6,"X":-1500,"Y":-300,"Z":1200},{"t":90,"X":1100,"Y":2100,"Z":-2000},{"t":90.4,"X":-800,"Y":-500,"Z":800},{"t":90.8,"X":500,"Y":1600,"Z":-2400},{"t":91.2,"X":-1300,"Y":-900,"Z":300},{"t":91.6,"X":900,"Y":2400,"Z":-2100},
{"t":92,"X":-1100,"Y":-200,"Z":1100},{"t":92.4,"X":200,"Y":1800,"Z":-2300},{"t":92.8,"X":-1400,"Y":-700,"Z":600},{"t":93.2,"X":600,"Y":2200,"Z":-1900},{"t":93.6,"X":-900,"Y":-400,"Z":1400},{"t":94,"X":1000,"Y":1500,"Z":-2400},{"t":94.4,"X":-1500,"Y":-800,"Z":700},{"t":94.8,"X":400,"Y":2300,"Z":-2200},{"t":95.2,"X":-1200,"Y":-600,"Z":900},{"t":95.6,"X":800,"Y":1900,"Z":-2000},
{"t":96,"X":800,"Y":1900,"Z":-2300},{"t":96.4,"X":-1200,"Y":-600,"Z":900},{"t":96.8,"X":400,"Y":2300,"Z":-2100},{"t":97.2,"X":-1500,"Y":-800,"Z":600},{"t":97.6,"X":1000,"Y":1500,"Z":-2400},{"t":98,"X":-900,"Y":-400,"Z":1200},{"t":98.4,"X":600,"Y":2200,"Z":-2000},{"t":98.8,"X":-1400,"Y":-700,"Z":400},{"t":99.2,"X":200,"Y":1800,"Z":-2500},{"t":99.6,"X":-1100,"Y":-200,"Z":1000},
{"t":100,"X":900,"Y":2400,"Z":-2200},{"t":100.4,"X":-1300,"Y":-900,"Z":700},{"t":100.8,"X":500,"Y":1600,"Z":-1900},{"t":101.2,"X":-800,"Y":-500,"Z":1300},{"t":101.6,"X":1100,"Y":2100,"Z":-2400},{"t":102,"X":-1500,"Y":-300,"Z":500},{"t":102.4,"X":300,"Y":2000,"Z":-2100},{"t":102.8,"X":-1000,"Y":-800,"Z":1100},{"t":103.2,"X":700,"Y":1700,"Z":-2300},{"t":103.6,"X":-1200,"Y":-400,"Z":800},
{"t":104,"X":-1000,"Y":-500,"Z":1000},{"t":104.4,"X":600,"Y":2200,"Z":-2200},{"t":104.8,"X":-1400,"Y":-700,"Z":500},{"t":105.2,"X":900,"Y":1800,"Z":-2500},{"t":105.6,"X":-800,"Y":-300,"Z":1200},{"t":106,"X":300,"Y":2400,"Z":-2000},{"t":106.4,"X":-1500,"Y":-800,"Z":800},{"t":106.8,"X":1100,"Y":1400,"Z":-2400},{"t":107.2,"X":-1200,"Y":-600,"Z":300},{"t":107.6,"X":500,"Y":2000,"Z":-2100},
{"t":108,"X":-900,"Y":-400,"Z":1100},{"t":108.4,"X":800,"Y":2300,"Z":-2300},{"t":108.8,"X":-1300,"Y":-900,"Z":600},{"t":109.2,"X":200,"Y":1700,"Z":-1900},{"t":109.6,"X":-1100,"Y":-200,"Z":1400},{"t":110,"X":1000,"Y":2100,"Z":-2400},{"t":110.4,"X":-1400,"Y":-700,"Z":700},{"t":110.8,"X":700,"Y":2500,"Z":-2200},{"t":111.2,"X":-600,"Y":-500,"Z":900},{"t":111.6,"X":400,"Y":1600,"Z":-2000},
{"t":112,"X":400,"Y":1600,"Z":-2000},{"t":112.4,"X":-600,"Y":-500,"Z":900},{"t":112.8,"X":700,"Y":2500,"Z":-2200},{"t":113.2,"X":-1400,"Y":-700,"Z":700},{"t":113.6,"X":1000,"Y":2100,"Z":-2400},{"t":114,"X":-1100,"Y":-200,"Z":1400},{"t":114.4,"X":200,"Y":1700,"Z":-1900},{"t":114.8,"X":-1300,"Y":-900,"Z":600},{"t":115.2,"X":800,"Y":2300,"Z":-2300},{"t":115.6,"X":-900,"Y":-400,"Z":1100},
{"t":116,"X":500,"Y":2000,"Z":-2100},{"t":116.4,"X":-1200,"Y":-600,"Z":300},{"t":116.8,"X":1100,"Y":1400,"Z":-2400},{"t":117.2,"X":-1500,"Y":-800,"Z":800},{"t":117.6,"X":300,"Y":2400,"Z":-2000},{"t":118,"X":-800,"Y":-300,"Z":1200},{"t":118.4,"X":900,"Y":1800,"Z":-2500},{"t":118.8,"X":-1400,"Y":-700,"Z":500},{"t":119.2,"X":600,"Y":2200,"Z":-2200},{"t":119.6,"X":-1000,"Y":-500,"Z":1000},
{"t":120,"X":800,"Y":1900,"Z":-2300}
]
},
"vconcat": [
{"title": "Standing", "width": 1027, "height": 34, "layer": [
 {"data": {"name": "st"}, "transform": [{"fold": ["X","Y","Z"], "as": ["s","v"]}], "mark": {"type": "line", "strokeWidth": 1, "clip": true},
  "encoding": {"x": {"field": "t", "type": "quantitative", "scale": {"domain": [0,120], "nice": false}, "axis": {"values": [0,20,40,60,80,100,120], "title": "Time(s)"}},
   "y": {"field": "v", "type": "quantitative", "scale": {"domain": [-2000,2000], "nice": false}, "axis": {"values": [-2000,0,2000], "title": "Accel(mg)"}},
   "color": {"field": "s", "type": "nominal", "scale": {"domain": ["X","Y","Z"], "range": ["#0072bd","#d95319","#edb120"]}, "legend": {"title": null, "orient": "none", "legendX": 968, "legendY": 11}}}},
 {"data": {"values": [{"t": 0}, {"t": 120}]}, "mark": {"type": "point", "opacity": 0},
  "encoding": {"x": {"field": "t", "type": "quantitative", "axis": {"orient": "top", "values": [20,40,60,80,100], "labels": false, "title": null, "tickSize": -10, "labelPadding": 0, "minExtent": 0, "maxExtent": 0}}}}
 ], "resolve": {"axis": {"x": "independent"}}},
{"title": "Laying Down", "width": 1027, "height": 34, "layer": [
 {"data": {"name": "ld"}, "transform": [{"fold": ["X","Y","Z"], "as": ["s","v"]}], "mark": {"type": "line", "strokeWidth": 1, "clip": true},
  "encoding": {"x": {"field": "t", "type": "quantitative", "scale": {"domain": [0,120], "nice": false}, "axis": {"values": [0,20,40,60,80,100,120], "title": "Time(s)"}},
   "y": {"field": "v", "type": "quantitative", "scale": {"domain": [-2000,2000], "nice": false}, "axis": {"values": [-2000,0,2000], "title": "Accel(mg)"}},
   "color": {"field": "s", "type": "nominal", "scale": {"domain": ["X","Y","Z"], "range": ["#0072bd","#d95319","#edb120"]}, "legend": {"title": null, "orient": "none", "legendX": 968, "legendY": 11}}}},
 {"data": {"values": [{"t": 0}, {"t": 120}]}, "mark": {"type": "point", "opacity": 0},
  "encoding": {"x": {"field": "t", "type": "quantitative", "axis": {"orient": "top", "values": [20,40,60,80,100], "labels": false, "title": null, "tickSize": -10, "labelPadding": 0, "minExtent": 0, "maxExtent": 0}}}}
 ], "resolve": {"axis": {"x": "independent"}}},
{"title": "Sitting", "width": 1027, "height": 34, "layer": [
 {"data": {"name": "si"}, "transform": [{"fold": ["X","Y","Z"], "as": ["s","v"]}], "mark": {"type": "line", "strokeWidth": 1, "clip": true},
  "encoding": {"x": {"field": "t", "type": "quantitative", "scale": {"domain": [0,120], "nice": false}, "axis": {"values": [0,20,40,60,80,100,120], "title": "Time(s)"}},
   "y": {"field": "v", "type": "quantitative", "scale": {"domain": [-2000,2000], "nice": false}, "axis": {"values": [-2000,0,2000], "title": "Accel(mg)"}},
   "color": {"field": "s", "type": "nominal", "scale": {"domain": ["X","Y","Z"], "range": ["#0072bd","#d95319","#edb120"]}, "legend": {"title": null, "orient": "none", "legendX": 968, "legendY": 11}}}},
 {"data": {"values": [{"t": 0}, {"t": 120}]}, "mark": {"type": "point", "opacity": 0},
  "encoding": {"x": {"field": "t", "type": "quantitative", "axis": {"orient": "top", "values": [20,40,60,80,100], "labels": false, "title": null, "tickSize": -10, "labelPadding": 0, "minExtent": 0, "maxExtent": 0}}}}
 ], "resolve": {"axis": {"x": "independent"}}},
{"title": "Walking (moderate)", "width": 1027, "height": 34, "layer": [
 {"data": {"name": "wm"}, "transform": [{"fold": ["X","Y","Z"], "as": ["s","v"]}], "mark": {"type": "line", "strokeWidth": 1, "clip": true},
  "encoding": {"x": {"field": "t", "type": "quantitative", "scale": {"domain": [0,120], "nice": false}, "axis": {"values": [0,20,40,60,80,100,120], "title": "Time(s)"}},
   "y": {"field": "v", "type": "quantitative", "scale": {"domain": [-2000,2000], "nice": false}, "axis": {"values": [-2000,0,2000], "title": "Accel(mg)"}},
   "color": {"field": "s", "type": "nominal", "scale": {"domain": ["X","Y","Z"], "range": ["#0072bd","#d95319","#edb120"]}, "legend": {"title": null, "orient": "none", "legendX": 968, "legendY": 11}}}},
 {"data": {"values": [{"t": 0}, {"t": 120}]}, "mark": {"type": "point", "opacity": 0},
  "encoding": {"x": {"field": "t", "type": "quantitative", "axis": {"orient": "top", "values": [20,40,60,80,100], "labels": false, "title": null, "tickSize": -10, "labelPadding": 0, "minExtent": 0, "maxExtent": 0}}}}
 ], "resolve": {"axis": {"x": "independent"}}},
{"title": "Walking (fast)", "width": 1027, "height": 34, "layer": [
 {"data": {"name": "wf"}, "transform": [{"fold": ["X","Y","Z"], "as": ["s","v"]}], "mark": {"type": "line", "strokeWidth": 1, "clip": true},
  "encoding": {"x": {"field": "t", "type": "quantitative", "scale": {"domain": [0,120], "nice": false}, "axis": {"values": [0,20,40,60,80,100,120], "title": "Time(s)"}},
   "y": {"field": "v", "type": "quantitative", "scale": {"domain": [-2000,2000], "nice": false}, "axis": {"values": [-2000,0,2000], "title": "Accel(mg)"}},
   "color": {"field": "s", "type": "nominal", "scale": {"domain": ["X","Y","Z"], "range": ["#0072bd","#d95319","#edb120"]}, "legend": {"title": null, "orient": "none", "legendX": 968, "legendY": 11}}}},
 {"data": {"values": [{"t": 0}, {"t": 120}]}, "mark": {"type": "point", "opacity": 0},
  "encoding": {"x": {"field": "t", "type": "quantitative", "axis": {"orient": "top", "values": [20,40,60,80,100], "labels": false, "title": null, "tickSize": -10, "labelPadding": 0, "minExtent": 0, "maxExtent": 0}}}}
 ], "resolve": {"axis": {"x": "independent"}}},
{"title": "Running", "width": 1027, "height": 34, "layer": [
 {"data": {"name": "ru"}, "transform": [{"fold": ["X","Y","Z"], "as": ["s","v"]}], "mark": {"type": "line", "strokeWidth": 1, "clip": true},
  "encoding": {"x": {"field": "t", "type": "quantitative", "scale": {"domain": [0,120], "nice": false}, "axis": {"values": [0,20,40,60,80,100,120], "title": "Time(s)"}},
   "y": {"field": "v", "type": "quantitative", "scale": {"domain": [-2000,2000], "nice": false}, "axis": {"values": [-2000,0,2000], "title": "Accel(mg)"}},
   "color": {"field": "s", "type": "nominal", "scale": {"domain": ["X","Y","Z"], "range": ["#0072bd","#d95319","#edb120"]}, "legend": {"title": null, "orient": "none", "legendX": 968, "legendY": 11}}}},
 {"data": {"values": [{"t": 0}, {"t": 120}]}, "mark": {"type": "point", "opacity": 0},
  "encoding": {"x": {"field": "t", "type": "quantitative", "axis": {"orient": "top", "values": [20,40,60,80,100], "labels": false, "title": null, "tickSize": -10, "labelPadding": 0, "minExtent": 0, "maxExtent": 0}}}}
 ], "resolve": {"axis": {"x": "independent"}}}
],
"resolve": {"scale": {"color": "independent"}, "legend": {"color": "independent"}}
}
